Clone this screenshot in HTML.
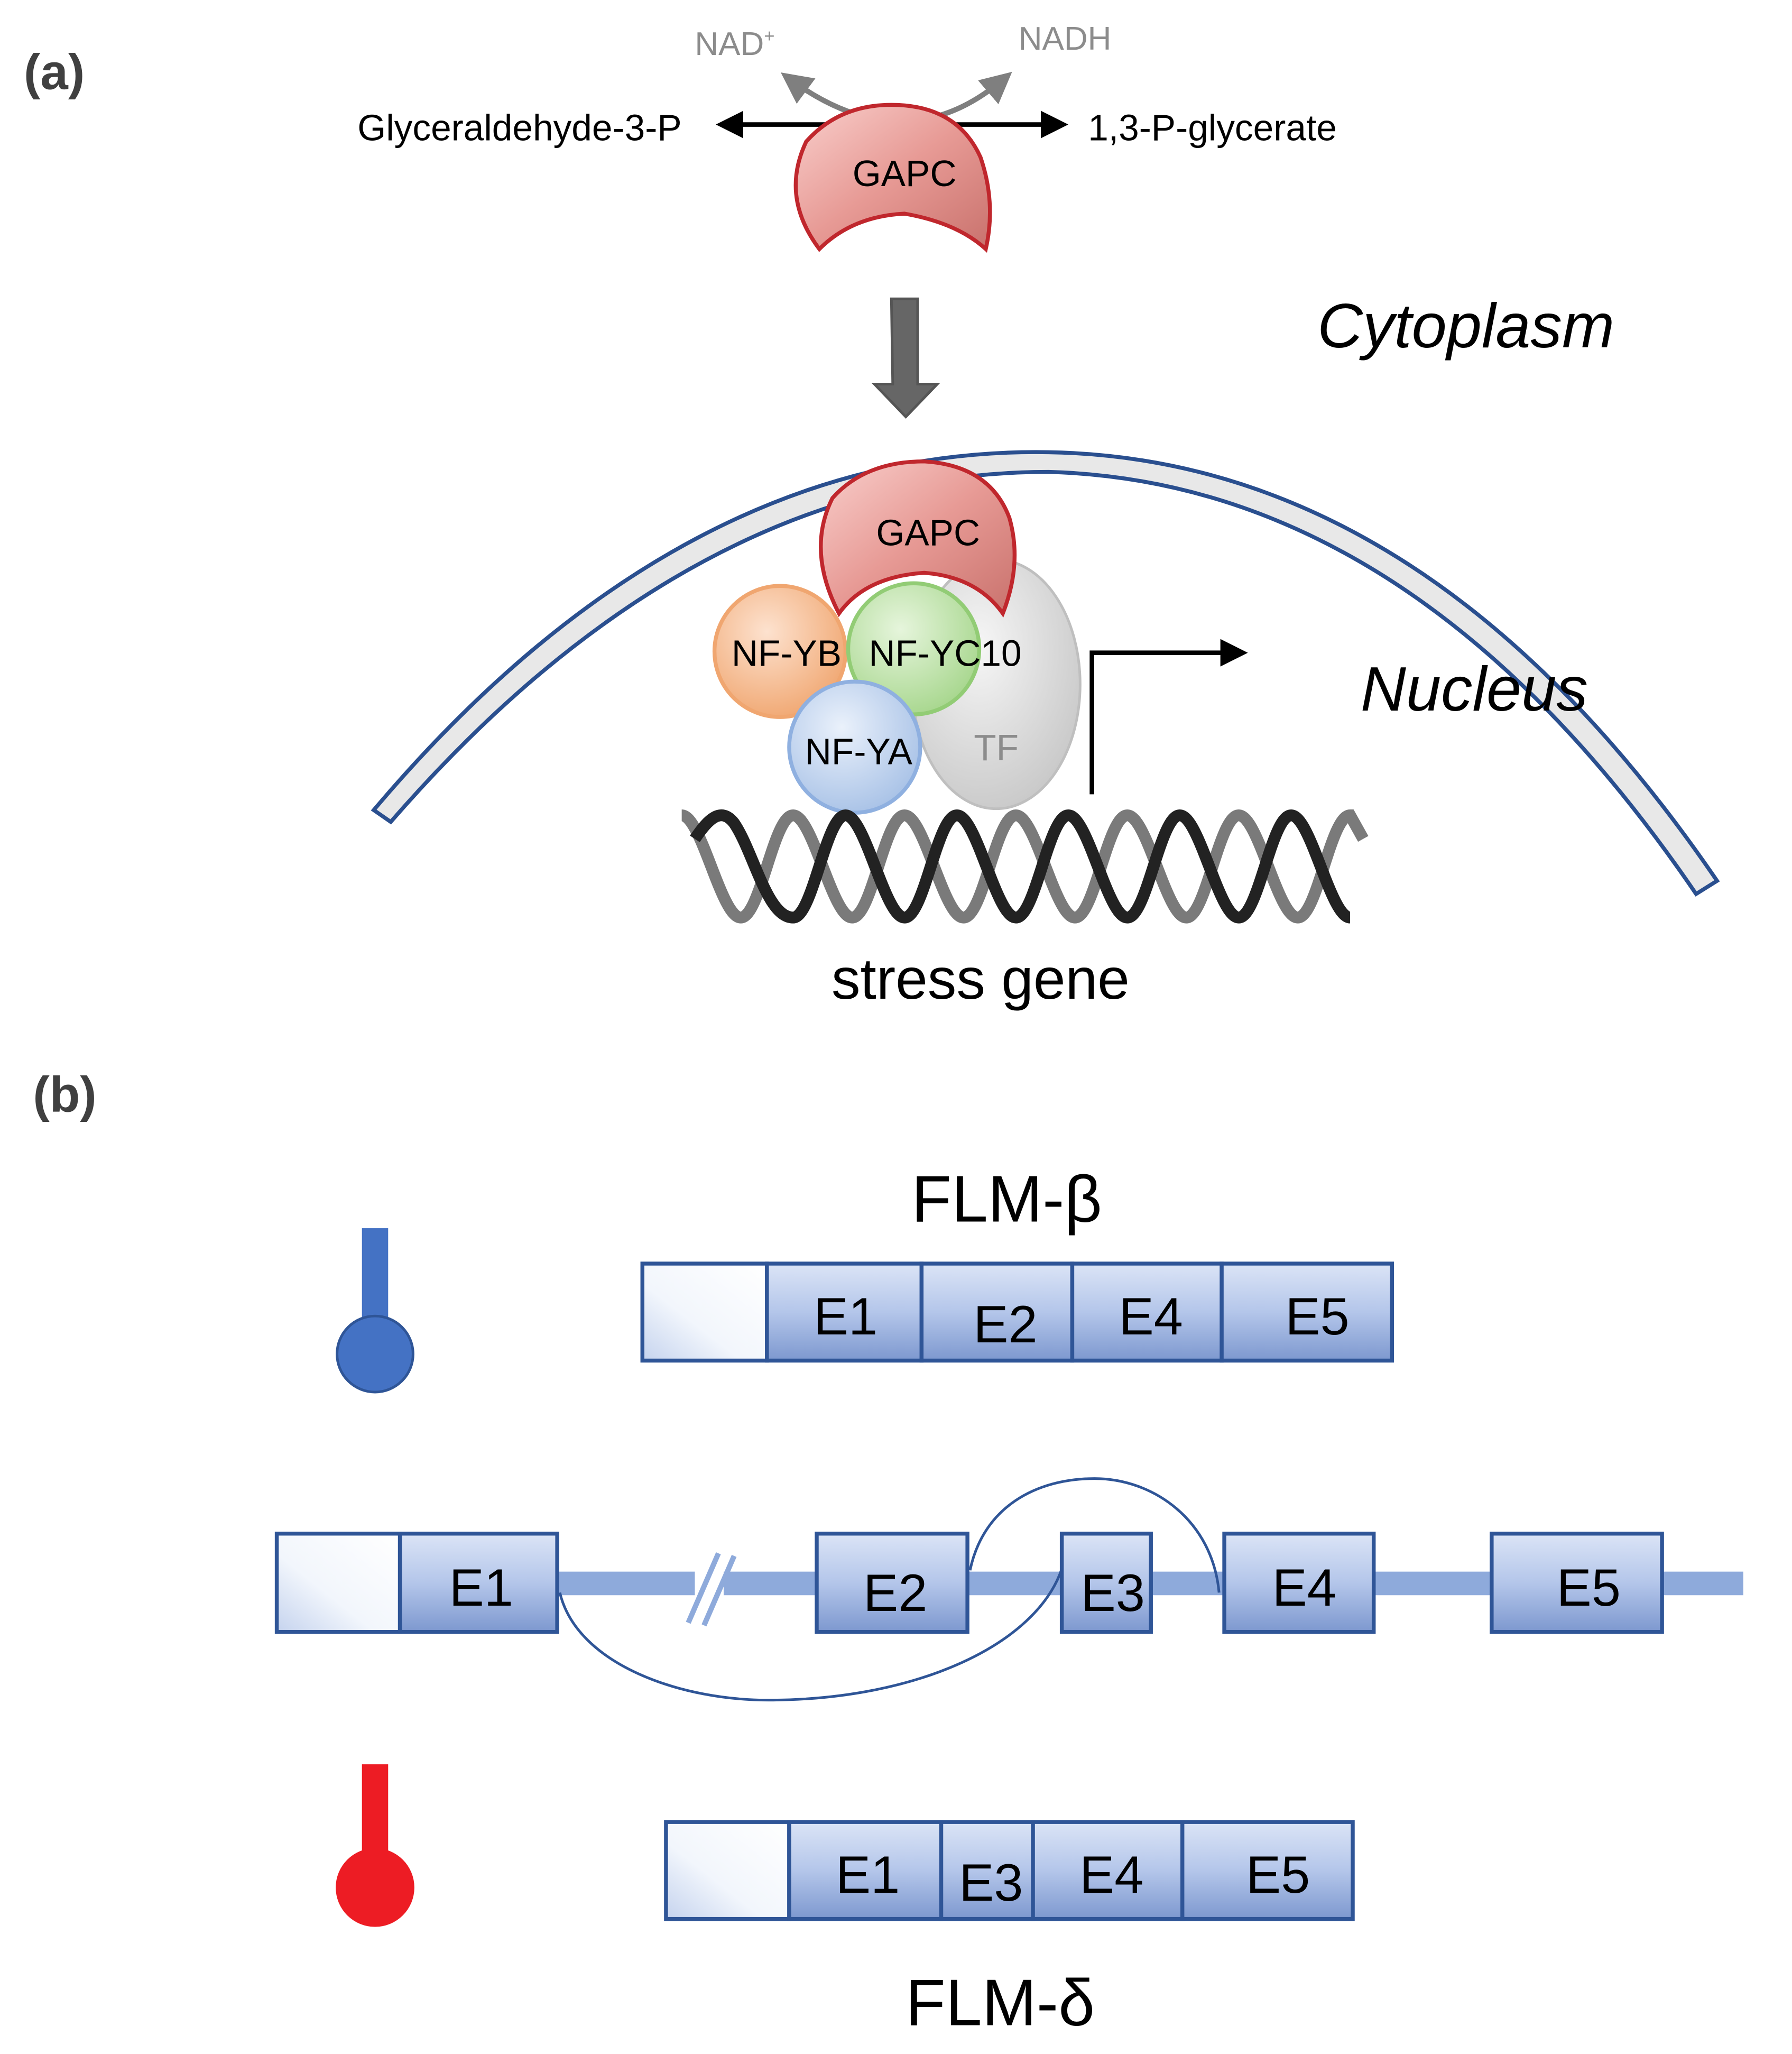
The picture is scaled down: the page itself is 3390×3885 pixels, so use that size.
<!DOCTYPE html>
<html><head><meta charset="utf-8"><style>html,body{margin:0;padding:0;background:#fff}svg{display:block}</style></head><body>
<svg width="3390" height="3885" viewBox="0 0 1367 1567" xmlns="http://www.w3.org/2000/svg" font-family="Liberation Sans, sans-serif">
<defs>
<linearGradient id="ex" x1="0" y1="0" x2="0" y2="1"><stop offset="0" stop-color="#dbe4f6"/><stop offset="0.5" stop-color="#b4c6ea"/><stop offset="1" stop-color="#7d98cf"/></linearGradient>
<linearGradient id="wh" x1="1" y1="0" x2="0" y2="1"><stop offset="0" stop-color="#ffffff"/><stop offset="0.6" stop-color="#f2f6fc"/><stop offset="1" stop-color="#c5d3ee"/></linearGradient>
<linearGradient id="red" x1="0" y1="0" x2="1" y2="1"><stop offset="0" stop-color="#f9cfcc"/><stop offset="0.5" stop-color="#e79a95"/><stop offset="1" stop-color="#c9726d"/></linearGradient>
<radialGradient id="gr" cx="0.4" cy="0.35" r="0.7"><stop offset="0" stop-color="#f6f6f6"/><stop offset="1" stop-color="#c8c8c8"/></radialGradient>
<radialGradient id="or" cx="0.4" cy="0.35" r="0.7"><stop offset="0" stop-color="#fde2cf"/><stop offset="1" stop-color="#f0a670"/></radialGradient>
<radialGradient id="gn" cx="0.4" cy="0.35" r="0.7"><stop offset="0" stop-color="#e6f5dc"/><stop offset="1" stop-color="#a6d68c"/></radialGradient>
<radialGradient id="bl" cx="0.4" cy="0.35" r="0.7"><stop offset="0" stop-color="#eaf1fb"/><stop offset="1" stop-color="#a7c1e6"/></radialGradient>
<marker id="ah" markerWidth="6" markerHeight="6" refX="4" refY="3" orient="auto" markerUnits="strokeWidth"><path d="M0,0 L6,3 L0,6 z" fill="#000"/></marker>
<marker id="ahs" markerWidth="6" markerHeight="6" refX="4" refY="3" orient="auto-start-reverse" markerUnits="strokeWidth"><path d="M0,0 L6,3 L0,6 z" fill="#000"/></marker>
<marker id="ag" markerWidth="6" markerHeight="6" refX="4" refY="3" orient="auto-start-reverse" markerUnits="strokeWidth"><path d="M0,0 L6,3 L0,6 z" fill="#7f7f7f"/></marker>
</defs>
<text x="18" y="68" font-size="38" font-weight="bold" fill="#404040">(a)</text>
<text x="530" y="42" font-size="25" fill="#8c8c8c">NAD<tspan font-size="14" dy="-10">+</tspan></text>
<text x="777" y="38" font-size="25" fill="#8c8c8c">NADH</text>
<path d="M602,60 Q690,125 766,60" fill="none" stroke="#7f7f7f" stroke-width="4" marker-start="url(#ag)" marker-end="url(#ag)"/>
<line x1="553" y1="95" x2="808" y2="95" stroke="#000" stroke-width="3.5" marker-start="url(#ahs)" marker-end="url(#ah)"/>
<text x="520" y="107" font-size="28" text-anchor="end">Glyceraldehyde-3-P</text>
<text x="830" y="107" font-size="28">1,3-P-glycerate</text>
<path d="M615,108 Q640,80 680,80 Q730,80 748,120 Q760,155 752,190 Q730,170 690,163 Q650,165 625,190 Q595,150 615,108 z" fill="url(#red)" stroke="#c0272d" stroke-width="3"/>
<text x="690" y="142" font-size="28" text-anchor="middle">GAPC</text>
<path d="M680,228 L700,228 L700,293 L715,293 L691,318 L667,293 L681,293 z" fill="#666" stroke="#555" stroke-width="2"/>
<text x="1005" y="265" font-size="48" font-style="italic">Cytoplasm</text>
<path d="M285,618 Q520,340 800,345 Q1090,350 1310,672 L1294,682 Q1080,368 800,360 Q530,360 298,627 z" fill="#e8e8e8" stroke="#2a4f8f" stroke-width="3"/>
<text x="1038" y="542" font-size="48" font-style="italic">Nucleus</text>
<ellipse cx="760" cy="522" rx="64" ry="95" fill="url(#gr)" stroke="#bfbfbf" stroke-width="2"/>
<text x="760" y="580" font-size="28" fill="#8c8c8c" text-anchor="middle">TF</text>
<path d="M635,380 Q660,352 705,352 Q755,355 770,395 Q780,430 765,468 Q745,440 705,437 Q660,440 640,468 Q615,420 635,380 z" fill="url(#red)" stroke="#c0272d" stroke-width="3"/>
<text x="708" y="416" font-size="28" text-anchor="middle">GAPC</text>
<circle cx="595" cy="497" r="50" fill="url(#or)" stroke="#f0a670" stroke-width="3"/>
<circle cx="697" cy="495" r="50" fill="url(#gn)" stroke="#92cc75" stroke-width="3"/>
<circle cx="652" cy="570" r="50" fill="url(#bl)" stroke="#8fb0e0" stroke-width="3"/>
<text x="600" y="508" font-size="28" text-anchor="middle">NF-YB</text>
<text x="721" y="508" font-size="28" text-anchor="middle">NF-YC10</text>
<text x="655" y="583" font-size="28" text-anchor="middle">NF-YA</text>
<polyline points="833,606 833,498 945,498" fill="none" stroke="#000" stroke-width="3.5" marker-end="url(#ah)"/>
<g fill="none" stroke-width="9">
<path d="M520,622 C535,622 550,700 565,700 C580,700 590,622 605,622 C620,622 635,700 650,700 C665,700 675,622 690,622 C705,622 720,700 735,700 C750,700 760,622 775,622 C790,622 805,700 820,700 C835,700 845,622 860,622 C875,622 890,700 905,700 C920,700 930,622 945,622 C960,622 975,700 990,700 C1005,700 1015,622 1030,622 L1040,640" stroke="#7a7a7a"/>
<path d="M530,640 C540,625 550,615 560,628 C575,650 585,700 605,700 C620,700 630,622 645,622 C660,622 675,700 690,700 C705,700 715,622 730,622 C745,622 760,700 775,700 C790,700 800,622 815,622 C830,622 845,700 860,700 C875,700 885,622 900,622 C915,622 930,700 945,700 C960,700 970,622 985,622 C1000,622 1015,700 1030,700" stroke="#222"/>
</g>
<text x="748" y="762" font-size="44" text-anchor="middle">stress gene</text>
<text x="25" y="848" font-size="38" font-weight="bold" fill="#404040">(b)</text>
<text x="768" y="932" font-size="50" text-anchor="middle">FLM-β</text>
<rect x="276" y="937" width="20" height="75" fill="#4472c4"/>
<circle cx="286" cy="1033" r="29" fill="#4472c4" stroke="#2f5597" stroke-width="2"/>
<g stroke="#2f5597" stroke-width="3">
<rect x="490" y="964" width="95" height="74" fill="url(#wh)"/>
<rect x="585" y="964" width="118" height="74" fill="url(#ex)"/>
<rect x="703" y="964" width="115" height="74" fill="url(#ex)"/>
<rect x="818" y="964" width="114" height="74" fill="url(#ex)"/>
<rect x="932" y="964" width="130" height="74" fill="url(#ex)"/>
</g>
<g font-size="40" text-anchor="middle">
<text x="645" y="1018">E1</text><text x="767" y="1024">E2</text><text x="878" y="1018">E4</text><text x="1005" y="1018">E5</text>
</g>
<rect x="425" y="1199" width="905" height="18" fill="#8eaadb"/>
<rect x="530" y="1185" width="22" height="50" fill="#fff"/>
<line x1="525" y1="1238" x2="548" y2="1185" stroke="#8eaadb" stroke-width="4"/>
<line x1="537" y1="1240" x2="560" y2="1187" stroke="#8eaadb" stroke-width="4"/>
<g stroke="#2f5597" stroke-width="3">
<rect x="211" y="1170" width="94" height="75" fill="url(#wh)"/>
<rect x="305" y="1170" width="120" height="75" fill="url(#ex)"/>
<rect x="623" y="1170" width="115" height="75" fill="url(#ex)"/>
<rect x="810" y="1170" width="68" height="75" fill="url(#ex)"/>
<rect x="934" y="1170" width="114" height="75" fill="url(#ex)"/>
<rect x="1138" y="1170" width="130" height="75" fill="url(#ex)"/>
</g>
<g font-size="40" text-anchor="middle">
<text x="367" y="1225">E1</text><text x="683" y="1229">E2</text><text x="849" y="1229">E3</text><text x="995" y="1225">E4</text><text x="1212" y="1225">E5</text>
</g>
<path d="M740,1198 C750,1150 790,1128 835,1128 C880,1128 925,1160 930,1215" fill="none" stroke="#2f5597" stroke-width="2"/>
<path d="M427,1215 C440,1270 520,1298 590,1297 C700,1296 790,1255 810,1197" fill="none" stroke="#2f5597" stroke-width="2"/>
<rect x="276" y="1346" width="20" height="76" fill="#ed1c24"/>
<circle cx="286" cy="1440" r="30" fill="#ed1c24"/>
<g stroke="#2f5597" stroke-width="3">
<rect x="508" y="1390" width="94" height="74" fill="url(#wh)"/>
<rect x="602" y="1390" width="116" height="74" fill="url(#ex)"/>
<rect x="718" y="1390" width="70" height="74" fill="url(#ex)"/>
<rect x="788" y="1390" width="114" height="74" fill="url(#ex)"/>
<rect x="902" y="1390" width="130" height="74" fill="url(#ex)"/>
</g>
<g font-size="40" text-anchor="middle">
<text x="662" y="1444">E1</text><text x="756" y="1450">E3</text><text x="848" y="1444">E4</text><text x="975" y="1444">E5</text>
</g>
<text x="763" y="1545" font-size="50" text-anchor="middle">FLM-δ</text>
</svg>
</body></html>
